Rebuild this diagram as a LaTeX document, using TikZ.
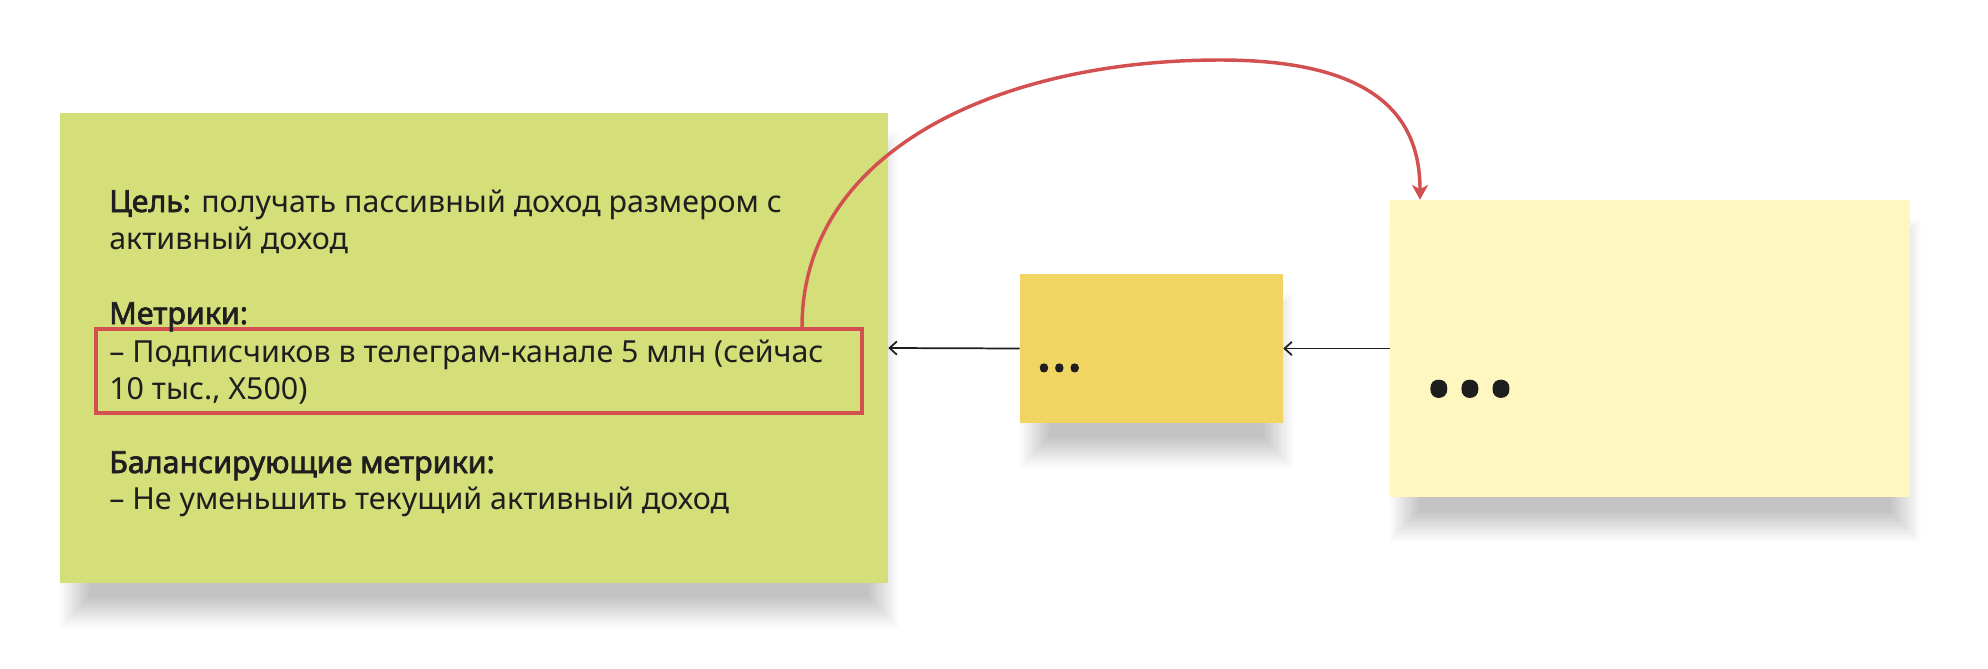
\documentclass[tikz,border=0pt]{standalone}
\usepackage{fontspec}
\setmainfont{Noto Sans}[AutoFakeBold=2.2]
\usetikzlibrary{arrows.meta}
\definecolor{greenc}{HTML}{D4DF7A}
\definecolor{smallc}{HTML}{F1D562}
\definecolor{bigc}{HTML}{FEF7C0}
\definecolor{redc}{HTML}{D35051}
\definecolor{txt}{HTML}{1E1E1E}
\newcommand{\mkshadow}[1]{%
  \foreach \k in {0,...,19}{%
    \fill[black,opacity=0.011] ([xshift={(30-1.6*\k)*0.75pt}, yshift={(-14-1.6*\k)*0.75pt}]#1.south west)
      rectangle ([xshift={(-20+1.6*\k)*0.75pt}, yshift={(-50+1.6*\k)*0.75pt}]#1.north east);}%
}
\begin{document}
\begin{tikzpicture}[x=0.75pt,y=-0.75pt,
  sticky/.style={rectangle, draw=none, inner sep=0pt},
  line/.style={anchor=base west, text=txt, inner sep=0pt, font=\fontsize{22.8}{28}\selectfont},
  conn/.style={draw=txt, line width=1.3pt, -{Straight Barb[length=5.5pt,width=10pt,line width=1.3pt]}},
  dots/.style={anchor=base west, text=txt, inner sep=0pt}
]
\useasboundingbox (0,0) rectangle (1988,668);
\fill[white] (0,0) rectangle (1988,668);

\node[sticky, minimum width=621pt, minimum height=352.5pt] (goal) at (474,348) {};
\node[sticky, minimum width=197.25pt, minimum height=111.75pt] (mid) at (1151.5,348.5) {};
\node[sticky, minimum width=390pt, minimum height=222.75pt] (big) at (1650,348.5) {};

\mkshadow{goal}
\mkshadow{mid}
\mkshadow{big}
\fill[greenc] (goal.south west) rectangle (goal.north east);
\fill[smallc] (mid.south west) rectangle (mid.north east);
\fill[bigc] (big.south west) rectangle (big.north east);

\node[draw=redc, line width=2.6pt, minimum width=574.5pt, minimum height=63pt, inner sep=0pt] (redbox) at (479,371) {};

\node[line] (l1) at (109,212) {\textbf{Цель:} получать пассивный доход размером с};
\node[line] (l2) at (109,249) {активный доход};
\node[line] (l3) at (109,324) {\textbf{Метрики:}};
\node[line] (l4) at (109,362) {– Подписчиков в телеграм-канале 5 млн (сейчас};
\node[line] (l5) at (109,399) {10 тыс., X500)};
\node[line] (l6) at (109,473) {\textbf{Балансирующие метрики:}};
\node[line] (l7) at (109,509) {– Не уменьшить текущий активный доход};

\node[dots, font=\bfseries\fontsize{43}{43}\selectfont] (d1) at (1036,371) {...};
\node[dots, font=\bfseries\fontsize{87}{87}\selectfont] (d2) at (1423,395) {...};

\draw[conn] (big.west) -- (mid.east);
\draw[conn] (mid.west) -- (goal.east);

\draw[redc, line width=2.6pt, -{Stealth[length=11pt,width=12pt,inset=3pt]}]
  ([xshift=242.25pt]redbox.north) .. controls (802,150) and (1000,60) .. (1220,60)
  .. controls (1380,60) and (1420,120) .. ([xshift=-172.5pt]big.north);
\end{tikzpicture}
\end{document}
